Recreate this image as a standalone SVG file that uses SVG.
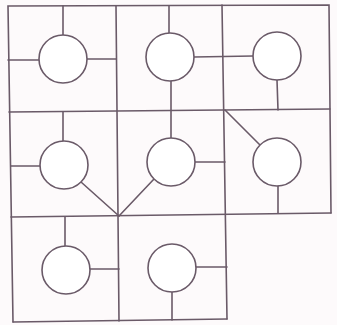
<svg xmlns="http://www.w3.org/2000/svg" width="337" height="325" viewBox="0 0 337 325">
<style>
.ln{stroke:#6a5a68;stroke-width:1.6;fill:none;stroke-linecap:round}
.nd{stroke:#6a5a68;stroke-width:1.6;fill:#ffffff}
</style>
<rect width="337" height="325" fill="#fdfafb"/>
<g id="grid" class="ln">
<polyline points="13,322 8,6 329,5 331,213"/>
<line x1="9" y1="112" x2="330" y2="109"/>
<line x1="11" y1="217" x2="331" y2="213"/>
<line x1="13" y1="322" x2="227" y2="319"/>
<line x1="116" y1="6" x2="119" y2="321"/>
<line x1="222" y1="5" x2="227" y2="319"/>
</g>
<g id="connectors" class="ln">
<line x1="63" y1="6" x2="63" y2="35"/>
<line x1="8" y1="60" x2="39" y2="60"/>
<line x1="87" y1="59" x2="116" y2="59"/>
<line x1="169" y1="6" x2="169" y2="33"/>
<line x1="194" y1="57" x2="253" y2="56"/>
<line x1="171" y1="81" x2="171" y2="138"/>
<line x1="277" y1="80" x2="278" y2="110"/>
<line x1="63" y1="112" x2="63" y2="141"/>
<line x1="11" y1="166" x2="40" y2="166"/>
<line x1="81" y1="182" x2="119" y2="216"/>
<line x1="154" y1="179" x2="119" y2="216"/>
<line x1="195" y1="162" x2="225" y2="162"/>
<line x1="225" y1="110" x2="260" y2="145"/>
<line x1="278" y1="186" x2="278" y2="213"/>
<line x1="65" y1="217" x2="65" y2="246"/>
<line x1="90" y1="269" x2="119" y2="269"/>
<line x1="196" y1="267" x2="227" y2="267"/>
<line x1="172" y1="292" x2="172" y2="320"/>
</g>
<g id="nodeA"><circle class="nd" cx="63" cy="59" r="24"/></g>
<g id="nodeB"><circle class="nd" cx="170" cy="57" r="24"/></g>
<g id="nodeC"><circle class="nd" cx="277" cy="56" r="24"/></g>
<g id="nodeD"><circle class="nd" cx="64" cy="165" r="24"/></g>
<g id="nodeE"><circle class="nd" cx="171" cy="162" r="24"/></g>
<g id="nodeF"><circle class="nd" cx="277" cy="162" r="24"/></g>
<g id="nodeG"><circle class="nd" cx="66" cy="270" r="24"/></g>
<g id="nodeH"><circle class="nd" cx="172" cy="268" r="24"/></g>
</svg>
